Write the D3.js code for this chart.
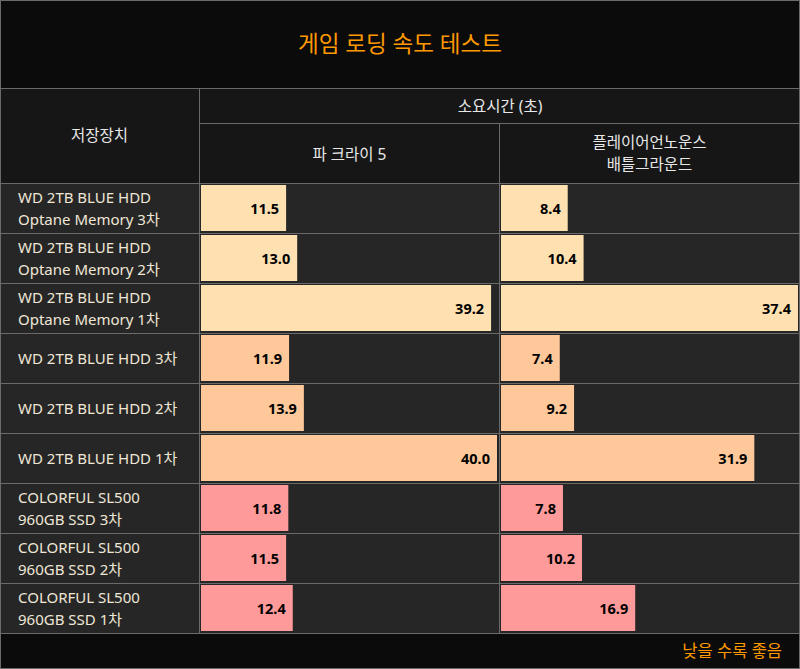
<!DOCTYPE html>
<html>
<head>
<meta charset="utf-8">
<script src="https://cdn.jsdelivr.net/npm/d3@7"></script>
<style>
  html, body { margin: 0; padding: 0; background: #0b0b0b; }
  svg text { font-family: "Noto Sans", "Noto Sans CJK KR", sans-serif; }
</style>
</head>
<body>
<div id="chart"></div>
<script>
// data
let title = "게임 로딩 속도 테스트";
let footNote = "낮을 수록 좋음";
let devices = [
  "WD 2TB BLUE HDD\nOptane Memory 3차",
  "WD 2TB BLUE HDD\nOptane Memory 2차",
  "WD 2TB BLUE HDD\nOptane Memory 1차",
  "WD 2TB BLUE HDD 3차",
  "WD 2TB BLUE HDD 2차",
  "WD 2TB BLUE HDD 1차",
  "COLORFUL SL500\n960GB SSD 3차",
  "COLORFUL SL500\n960GB SSD 2차",
  "COLORFUL SL500\n960GB SSD 1차"
];
let groups = [0, 0, 0, 1, 1, 1, 2, 2, 2];
let games = ["파 크라이 5", "플레이어언노운스\n배틀그라운드"];
let farCry = [11.5, 13.0, 39.2, 11.9, 13.9, 40.0, 11.8, 11.5, 12.4];
let pubg = [8.4, 10.4, 37.4, 7.4, 9.2, 31.9, 7.8, 10.2, 16.9];
let groupColors = ["#ffe0b0", "#ffc89b", "#ff9a9a"];

let buildChart = () => {
  let width = 800, height = 669;
  let lineColor = "#6a6a6a";
  let svg = d3.select("#chart").append("svg")
    .attr("width", width).attr("height", height)
    .style("display", "block");

  // backgrounds
  svg.append("rect").attr("x", 0).attr("y", 0).attr("width", width).attr("height", 88).attr("fill", "#0b0b0b");
  svg.append("rect").attr("x", 0).attr("y", 88).attr("width", width).attr("height", 95).attr("fill", "#161616");
  svg.append("rect").attr("x", 0).attr("y", 183).attr("width", width).attr("height", 450).attr("fill", "#262626");
  svg.append("rect").attr("x", 0).attr("y", 633).attr("width", width).attr("height", 36).attr("fill", "#0b0b0b");

  svg.append("text")
    .attr("x", 400).attr("y", 43)
    .attr("text-anchor", "middle").attr("dominant-baseline", "central")
    .attr("fill", "#ff9900").style("font-size", "22.5px")
    .text(title);

  let y = d3.scaleBand().domain(d3.range(devices.length)).range([183, 633]);

  let cols = [
    { x0: 201, x1: 497, values: farCry },
    { x0: 501, x1: 798, values: pubg }
  ];

  // header text
  let multi = (sel, str, cx, cy, lh, size, color) => {
    let lines = str.split("\n");
    let t = sel.append("text")
      .attr("text-anchor", "middle")
      .attr("fill", color).style("font-size", size);
    lines.forEach((l, i) => {
      t.append("tspan").attr("x", cx)
        .attr("y", cy + (i - (lines.length - 1) / 2) * lh)
        .attr("dominant-baseline", "central")
        .text(l);
    });
    return t;
  };
  multi(svg, "저장장치", 99.5, 135, 22, "15.5px", "#e8e8e8");
  multi(svg, "소요시간 (초)", 500, 105.5, 22, "15.5px", "#e8e8e8");
  multi(svg, games[0], 349.5, 153.5, 22, "15.5px", "#e8e8e8");
  multi(svg, games[1], 649.5, 152.5, 22, "15.5px", "#e8e8e8");

  // row labels
  devices.forEach((d, i) => {
    let lines = d.split("\n");
    let t = svg.append("text").attr("fill", "#efe6d6").style("font-size", "15px");
    lines.forEach((l, k) => {
      t.append("tspan").attr("x", 18)
        .attr("y", y(i) + y.bandwidth() / 2 + (k - (lines.length - 1) / 2) * 21.5)
        .attr("dominant-baseline", "central")
        .text(l);
    });
  });

  // bars
  cols.forEach(c => {
    let x = d3.scaleLinear().domain([0, d3.max(c.values)]).range([c.x0, c.x1]);
    let g = svg.append("g");
    g.selectAll("rect").data(c.values).enter().append("rect")
      .attr("x", x(0))
      .attr("y", (d, i) => y(i) + 2)
      .attr("width", d => x(d) - x(0))
      .attr("height", y.bandwidth() - 4)
      .attr("fill", (d, i) => groupColors[groups[i]]);
    g.selectAll("text").data(c.values).enter().append("text")
      .attr("x", d => x(d) - 7)
      .attr("y", (d, i) => y(i) + y.bandwidth() / 2)
      .attr("text-anchor", "end").attr("dominant-baseline", "central")
      .attr("fill", "#000").style("font-size", "14.5px").style("font-weight", "700")
      .text(d => d.toFixed(1));
  });

  // grid lines
  let hl = (x1, x2, yy) => svg.append("line").attr("x1", x1).attr("x2", x2).attr("y1", yy).attr("y2", yy)
    .attr("stroke", lineColor).attr("stroke-width", 1);
  let vl = (xx, y1, y2) => svg.append("line").attr("x1", xx).attr("x2", xx).attr("y1", y1).attr("y2", y2)
    .attr("stroke", lineColor).attr("stroke-width", 1);
  hl(0, width, 88.5);
  hl(199, width, 123.5);
  d3.range(devices.length + 1).forEach(i => hl(0, width, (i < devices.length ? y(i) : 633) + 0.5));
  vl(199.5, 88, 633);
  vl(499.5, 123, 633);

  svg.append("text")
    .attr("x", 782).attr("y", 650)
    .attr("text-anchor", "end").attr("dominant-baseline", "central")
    .attr("fill", "#ff9900").style("font-size", "16.5px")
    .text(footNote);

  // outer border
  svg.append("rect").attr("x", 0.5).attr("y", 0.5).attr("width", width - 1).attr("height", height - 1)
    .attr("fill", "none").attr("stroke", lineColor);
};
buildChart();
</script>
</body>
</html>
